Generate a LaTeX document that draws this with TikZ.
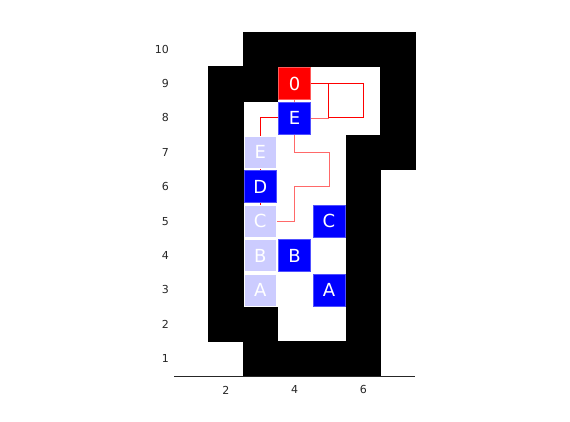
\documentclass[tikz,border=0pt]{standalone}
\usepackage{fontspec}
\setmainfont{DejaVu Sans}
\usetikzlibrary{backgrounds}

\begin{document}
\begin{tikzpicture}[x=34.4pt,y=34.4pt,
  wall/.style={fill=black,draw=black,line width=0.3pt},
  cell/.style={minimum size=32pt,inner sep=0pt,line width=0.6pt,text=white,font=\fontsize{18}{20}\selectfont},
  bluecell/.style={cell,fill={rgb,255:red,0;green,0;blue,255},draw={rgb,255:red,80;green,80;blue,255}},
  ghostcell/.style={cell,fill={rgb,255:red,204;green,204;blue,255},draw=white},
  startcell/.style={cell,fill={rgb,255:red,255;green,0;blue,0},draw={rgb,255:red,255;green,90;blue,90}},
  trail/.style={draw={rgb,255:red,255;green,0;blue,0},line width=1pt},
  faded/.style={draw={rgb,255:red,255;green,105;blue,105},line width=0.8pt},
  ticklabel/.style={inner sep=0pt,font=\fontsize{11}{13}\selectfont,text={rgb,255:red,38;green,38;blue,38}}]
\useasboundingbox (-4.564,-0.837) rectangle (12.006,11.430);

%Shape: Walls
\foreach \x/\y in {3/10,4/10,5/10,6/10,7/10,2/9,3/9,7/9,2/8,7/8,2/7,6/7,7/7,2/6,6/6,2/5,6/5,2/4,6/4,2/3,6/3,2/2,3/2,6/2,3/1,4/1,5/1,6/1}
  \path[wall] (\x-0.5,\y-0.5) rectangle ++(1,1);

%Shape: Cells
\node[startcell] (start) at (4,9) {0};
\node[bluecell] (bE) at (4,8) {E};
\node[bluecell] (bD) at (3,6) {D};
\node[bluecell] (bC) at (5,5) {C};
\node[bluecell] (bB) at (4,4) {B};
\node[bluecell] (bA) at (5,3) {A};
\node[ghostcell] (gE) at (3,7) {E};
\node[ghostcell] (gC) at (3,5) {C};
\node[ghostcell] (gB) at (3,4) {B};
\node[ghostcell] (gA) at (3,3) {A};

%Corners
\coordinate (c69) at (6,9);
\coordinate (c59) at (5,9);
\coordinate (c68) at (6,8);
\coordinate (c58) at (5,8);
\coordinate (c47) at (4,7);
\coordinate (c57) at (5,7);
\coordinate (c56) at (5,6);
\coordinate (c46) at (4,6);
\coordinate (c45) at (4,5);

%Curve Lines
\begin{scope}[on background layer]
\path[faded] (start.center) -- (bE.center);
\path[faded] (bE.center) -- (c58);
\path[faded] (bE.center) -- (c47) -- (c57) -- (c56) -- (c46) -- (c45) -- (gC.center);
\path[trail] (start.center) -- (c69) -- (c68) -- (c58) -- (c59);
\path[trail] (bE.center) -| (gE.center);
\path[trail] (gE.center) -- (bD.center) -- (gC.center);
\end{scope}

%Straight Lines
\coordinate (axl) at (0.5,0.5);
\coordinate (axr) at (7.5,0.5);
\draw[line width=0.6pt,draw={rgb,255:red,38;green,38;blue,38}] (axl) -- (axr);

% Text Node
\foreach \t in {2,4,6}
  \node[ticklabel] (xt\t) at (\t,0.093) {\t};
\foreach \t in {1,...,10}
  \node[ticklabel,anchor=east] (yt\t) at (0.35,\t) {\t};

\end{tikzpicture}
\end{document}
